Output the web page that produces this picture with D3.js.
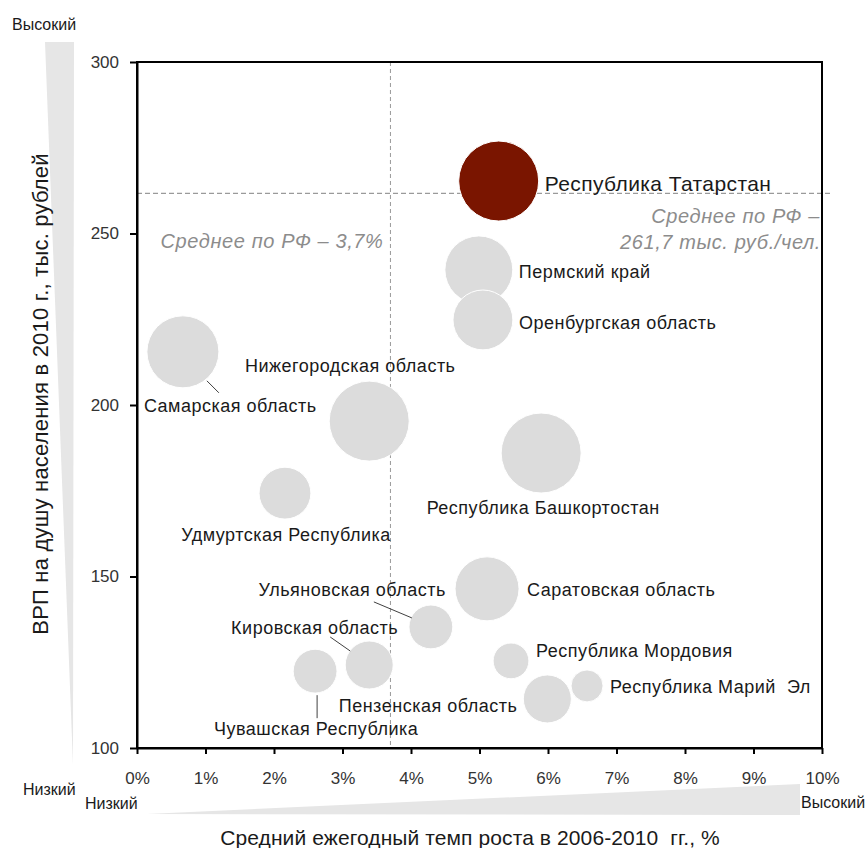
<!DOCTYPE html>
<html lang="ru">
<head>
<meta charset="utf-8">
<script src="https://cdn.jsdelivr.net/npm/d3@7"></script>
<style>
  html, body { margin: 0; padding: 0; background: #fff; }
  svg { display: block; font-family: "Liberation Sans", Arial, sans-serif; }
  text { white-space: pre; }
</style>
</head>
<body>
<svg id="chart" width="868" height="848"></svg>
<script>
// Regions of the Volga Federal District
const regions = [
  "Республика Татарстан", "Пермский край", "Оренбургская область",
  "Самарская область", "Нижегородская область", "Удмуртская Республика",
  "Республика Башкортостан", "Саратовская область", "Ульяновская область",
  "Кировская область", "Чувашская Республика", "Республика Мордовия",
  "Пензенская область", "Республика Марий  Эл"
];
// Average annual growth rate 2006-2010, %
const growth = [5.28, 4.99, 5.05, 0.67, 3.39, 2.16, 5.90, 5.11, 4.29, 3.39, 2.60, 5.46, 5.99, 6.57];
// GRP per capita in 2010, thousand roubles
const grp = [265.3, 239.4, 224.8, 215.5, 195.3, 174.3, 186.0, 146.4, 135.3, 124.2, 122.4, 125.4, 114.3, 118.1];
// Relative bubble size
const bubbleSize = [100, 72, 56, 81, 100, 42, 100, 64, 30, 36, 30, 20, 36, 16];
const highlight = "Республика Татарстан";

// Russian averages
const avgGrowth = 3.7;
const avgGrp = 261.7;

// Axis ticks
const xTicks = [0, 1, 2, 3, 4, 5, 6, 7, 8, 9, 10];
const yTicks = [100, 150, 200, 250, 300];

// Label placement relative to bubble centre: [dx, dy, anchor]
const labelLayout = [
  [46, 2, "start"], [40, 2, "start"], [36, 3, "start"],
  [-39, 54, "start"], [-19, -55, "middle"], [1, 42, "middle"],
  [2, 55, "middle"], [40, 1, "start"], [15, -37, "end"],
  [29, -37, "end"], [1, 58, "middle"], [25, -10, "start"],
  [-30, 7, "end"], [23, 1, "start"]
];
// Leader lines relative to bubble centre: [x1, y1, x2, y2]
const leaders = {
  "Самарская область": [24, 29, 36, 41],
  "Ульяновская область": [-57, -25, -19, -9],
  "Кировская область": [-39, -28, -19, -14],
  "Чувашская Республика": [2, 24, 2, 47]
};

const data = regions.map((name, i) => ({
  name, x: growth[i], y: grp[i], s: bubbleSize[i], layout: labelLayout[i]
}));

const svg = d3.select("#chart");
const plotLeft = 137, plotRight = 822, plotTop = 62, plotBottom = 748;

const x = d3.scaleLinear().domain([0, 10]).range([plotLeft, plotRight]);
const y = d3.scaleLinear().domain([100, 300]).range([plotBottom, plotTop]);
const r = d3.scaleSqrt().domain([0, 100]).range([0, 40]);

// Low-to-high wedges beside the axes
svg.append("path")
  .attr("d", "M45,42 L74,42 L73,765 Z")
  .attr("fill", "#e6e6e6");
svg.append("path")
  .attr("d", "M147,814 L800,784 L800,815 Z")
  .attr("fill", "#e6e6e6");

// Average reference lines
svg.append("line")
  .attr("x1", x(avgGrowth)).attr("x2", x(avgGrowth))
  .attr("y1", plotTop).attr("y2", plotBottom)
  .attr("stroke", "#9a9a9a").attr("stroke-width", 1)
  .attr("stroke-dasharray", "4,3");
svg.append("line")
  .attr("x1", plotLeft).attr("x2", plotRight + 8)
  .attr("y1", y(avgGrp)).attr("y2", y(avgGrp))
  .attr("stroke", "#9a9a9a").attr("stroke-width", 1.2)
  .attr("stroke-dasharray", "5,3");

// Bubbles
svg.append("g").selectAll("circle")
  .data(data)
  .join("circle")
  .attr("cx", d => x(d.x))
  .attr("cy", d => y(d.y))
  .attr("r", d => r(d.s))
  .attr("fill", d => d.name === highlight ? "#7a1500" : "#dcdcdc")
  .attr("stroke", "#fff")
  .attr("stroke-width", 1);

// Leader lines
svg.append("g").selectAll("line")
  .data(data.filter(d => leaders[d.name]))
  .join("line")
  .attr("x1", d => x(d.x) + leaders[d.name][0])
  .attr("y1", d => y(d.y) + leaders[d.name][1])
  .attr("x2", d => x(d.x) + leaders[d.name][2])
  .attr("y2", d => y(d.y) + leaders[d.name][3])
  .attr("stroke", "#404040").attr("stroke-width", 1);

// Bubble labels
svg.append("g").selectAll("text")
  .data(data)
  .join("text")
  .attr("x", d => x(d.x) + d.layout[0])
  .attr("y", d => y(d.y) + d.layout[1])
  .attr("text-anchor", d => d.layout[2])
  .attr("dominant-baseline", "central")
  .attr("font-size", d => d.name === highlight ? 21 : 18)
  .attr("letter-spacing", d => d.name === highlight ? 0.4 : 0.5)
  .attr("fill", "#1a1a1a")
  .text(d => d.name);

// Average annotations
const note = svg.append("g")
  .attr("font-style", "italic").attr("font-size", 20)
  .attr("letter-spacing", 0.6).attr("fill", "#8c8c8c");
note.append("text")
  .attr("x", x(avgGrowth) - 7).attr("y", 241)
  .attr("text-anchor", "end").attr("dominant-baseline", "central")
  .text("Среднее по РФ – 3,7%");
note.append("text")
  .attr("x", plotRight - 2).attr("y", y(avgGrp) + 23)
  .attr("text-anchor", "end").attr("dominant-baseline", "central")
  .text("Среднее по РФ –");
note.append("text")
  .attr("x", plotRight - 1).attr("y", y(avgGrp) + 49)
  .attr("text-anchor", "end").attr("dominant-baseline", "central")
  .text("261,7 тыс. руб./чел.");

// Frame
svg.append("rect")
  .attr("x", plotLeft).attr("y", plotTop)
  .attr("width", plotRight - plotLeft).attr("height", plotBottom - plotTop)
  .attr("fill", "none").attr("stroke", "#000").attr("stroke-width", 2);

// Axes
const yAxis = svg.append("g")
  .attr("transform", `translate(${plotLeft},0)`)
  .call(d3.axisLeft(y).tickValues(yTicks).tickFormat(d3.format("d")).tickSizeInner(7).tickSizeOuter(0));
const xAxis = svg.append("g")
  .attr("transform", `translate(0,${plotBottom})`)
  .call(d3.axisBottom(x).tickValues(xTicks).tickFormat(d => d + "%").tickSizeInner(6).tickSizeOuter(0));
[yAxis, xAxis].forEach(g => {
  g.select(".domain").attr("stroke", "#000").attr("stroke-width", 2);
  g.selectAll(".tick line").attr("stroke", "#000").attr("stroke-width", 2);
  g.selectAll(".tick text")
    .attr("font-family", "Liberation Sans, Arial, sans-serif")
    .attr("font-size", 17).attr("fill", "#333");
});
yAxis.selectAll(".tick text").attr("x", -18);
xAxis.selectAll(".tick text").attr("y", 24);

// Axis titles
svg.append("text")
  .attr("transform", `translate(40,${394}) rotate(-90)`)
  .attr("text-anchor", "middle").attr("dominant-baseline", "central")
  .attr("font-size", 22).attr("letter-spacing", 0.2).attr("fill", "#1a1a1a")
  .text("ВРП на душу населения в 2010 г., тыс. рублей");
svg.append("text")
  .attr("x", 470).attr("y", 837)
  .attr("text-anchor", "middle").attr("dominant-baseline", "central")
  .attr("font-size", 21).attr("letter-spacing", 0.1).attr("fill", "#1a1a1a")
  .text("Средний ежегодный темп роста в 2006-2010  гг., %");

// Scale extremes
const ends = svg.append("g").attr("font-size", 16).attr("fill", "#1a1a1a");
ends.append("text").attr("x", 12).attr("y", 24).attr("dominant-baseline", "central").text("Высокий");
ends.append("text").attr("x", 23).attr("y", 789).attr("dominant-baseline", "central").text("Низкий");
ends.append("text").attr("x", 85).attr("y", 803).attr("dominant-baseline", "central").text("Низкий");
ends.append("text").attr("x", 801).attr("y", 802).attr("dominant-baseline", "central").text("Высокий");
</script>
</body>
</html>
